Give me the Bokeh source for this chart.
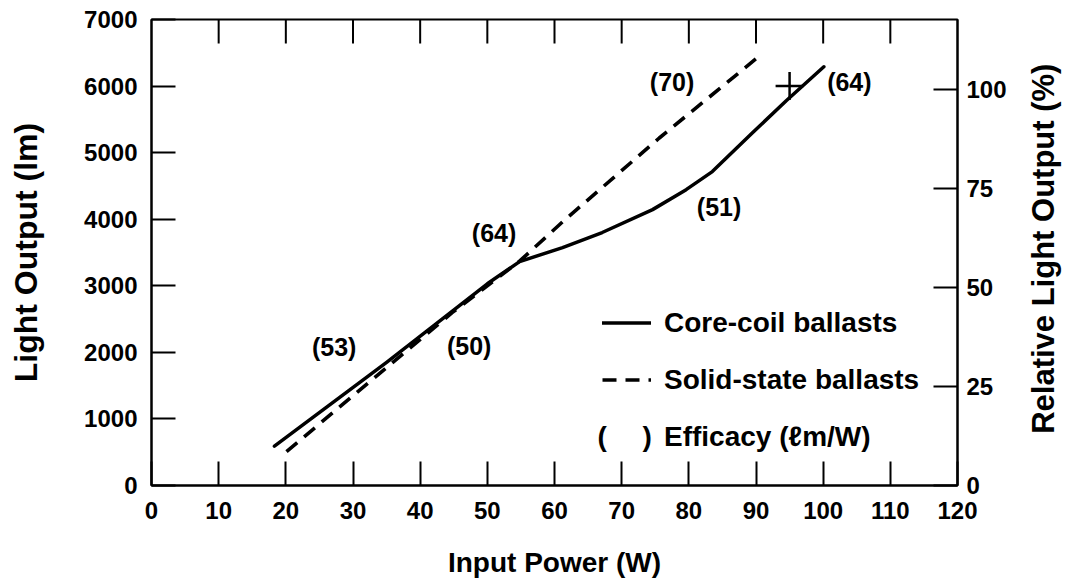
import math
from bokeh.plotting import figure
from bokeh.models import Range1d, LinearAxis, FixedTicker, Legend, LegendItem, Label, ColumnDataSource
from bokeh.core.properties import value
from bokeh.embed import file_html
from bokeh.resources import INLINE

# ---- data ----
core_power = [18.3, 35.0, 50.0, 54.8, 61.2, 67.1, 74.6, 79.6, 83.5, 89.4, 94.5, 100.1]
core_lumens = [590, 1850, 3030, 3363, 3574, 3800, 4144, 4444, 4715, 5290, 5780, 6290]

solid_power = [20.1, 44.8, 54.8, 61.2, 75.6, 90.2]
solid_lumens = [510, 2600, 3370, 3960, 5220, 6426]

efficacy_text = ["(53)", "(50)", "(64)", "(70)", "(64)", "(51)"]
efficacy_power = [27.2, 47.3, 51.0, 77.5, 103.9, 84.5]
efficacy_lumens = [2073, 2088, 3800, 6068, 6068, 4190]

rated_power = [95.0]
rated_lumens = [6000]

x_ticks = list(range(0, 121, 10))
y_ticks = list(range(0, 7001, 1000))
pct_ticks = [0, 25, 50, 75, 100]
lumens_at_100pct = 5950

FONT = "Liberation Sans"
TICK_LEN = 24

p = figure(width=1081, height=580,
           x_range=Range1d(0, 120), y_range=Range1d(0, 7000),
           output_backend="svg", toolbar_location=None,
           min_border_left=151, min_border_right=123,
           min_border_top=19, min_border_bottom=94)
p.extra_y_ranges = {"pct": Range1d(0, 7000 / lumens_at_100pct * 100)}
p.xgrid.visible = False
p.ygrid.visible = False
p.outline_line_color = "black"
p.outline_line_width = 2
p.background_fill_color = "white"
p.border_fill_color = "white"


def style(ax, ticks, tick_standoff, label_standoff):
    ax.ticker = FixedTicker(ticks=ticks)
    ax.minor_tick_line_color = None
    ax.major_tick_in = TICK_LEN
    ax.major_tick_out = 0
    ax.major_tick_line_width = 2
    ax.major_tick_line_color = "black"
    ax.axis_line_width = 2
    ax.axis_line_color = "black"
    ax.major_label_text_font = FONT
    ax.major_label_text_font_size = "24px"
    ax.major_label_text_font_style = "bold"
    ax.major_label_text_color = "black"
    ax.major_label_standoff = tick_standoff
    ax.axis_label_text_font = FONT
    ax.axis_label_text_font_size = "28px"
    ax.axis_label_text_font_style = "bold"
    ax.axis_label_text_color = "black"
    ax.axis_label_standoff = label_standoff


xb = p.xaxis[0]
style(xb, x_ticks, 16, 25)
xb.axis_label = "Input Power (W)"

yl = p.yaxis[0]
style(yl, y_ticks, 14, 37)
yl.axis_label = "Light Output (lm)"
yl.axis_label_text_font_size = "32px"

right = LinearAxis(y_range_name="pct")
style(right, pct_ticks, 9, 34)
# reads bottom-to-top like the left title; anchored at the bottom of the axis
right.axis_label = "\u00a0" * 6 + "Relative Light Output (%)"
right.axis_label_orientation = math.pi / 2
right.axis_label_align = "start"
right.axis_label_text_font_size = "31px"
p.add_layout(right, "right")

# inward tick marks along the top edge of the frame
p.ray(x=x_ticks[1:-1], y=[7000] * (len(x_ticks) - 2), length=TICK_LEN,
      length_units="screen", angle=-math.pi / 2, line_color="black", line_width=2)

r_core = p.line(core_power, core_lumens, line_color="black", line_width=3.5,
                line_cap="round", line_join="round")
r_solid = p.line(solid_power, solid_lumens, line_color="black", line_width=3.6,
                 line_dash="14 9", line_cap="butt")

p.scatter(rated_power, rated_lumens, marker="cross", size=28,
          line_color="black", line_width=2.5)

src = ColumnDataSource(dict(x=efficacy_power, y=efficacy_lumens, t=efficacy_text))
p.text(x="x", y="y", text="t", source=src, text_align="center",
       text_baseline="middle", text_font=value(FONT),
       text_font_size="25px", text_font_style="bold", text_color="black")

legend = Legend(items=[LegendItem(label="Core-coil ballasts", renderers=[r_core]),
                       LegendItem(label="Solid-state ballasts", renderers=[r_solid])],
                location=(451, 77), orientation="vertical",
                label_text_font=FONT, label_text_font_size="28px",
                label_text_font_style="bold", label_text_color="black",
                glyph_width=49, glyph_height=57, label_height=57,
                spacing=0, padding=0, margin=0, label_standoff=13,
                border_line_color=None, background_fill_alpha=0)
p.add_layout(legend)

for txt, xpos in [("(", 66.4), (")", 73.1), ("Efficacy (\u2113m/W)", 76.3)]:
    p.add_layout(Label(x=xpos, y=736, text=txt, text_font=FONT,
                       text_font_size="28px", text_font_style="bold",
                       text_baseline="middle", text_align="left",
                       text_color="black"))

open("out.html", "w").write(file_html(p, INLINE))
